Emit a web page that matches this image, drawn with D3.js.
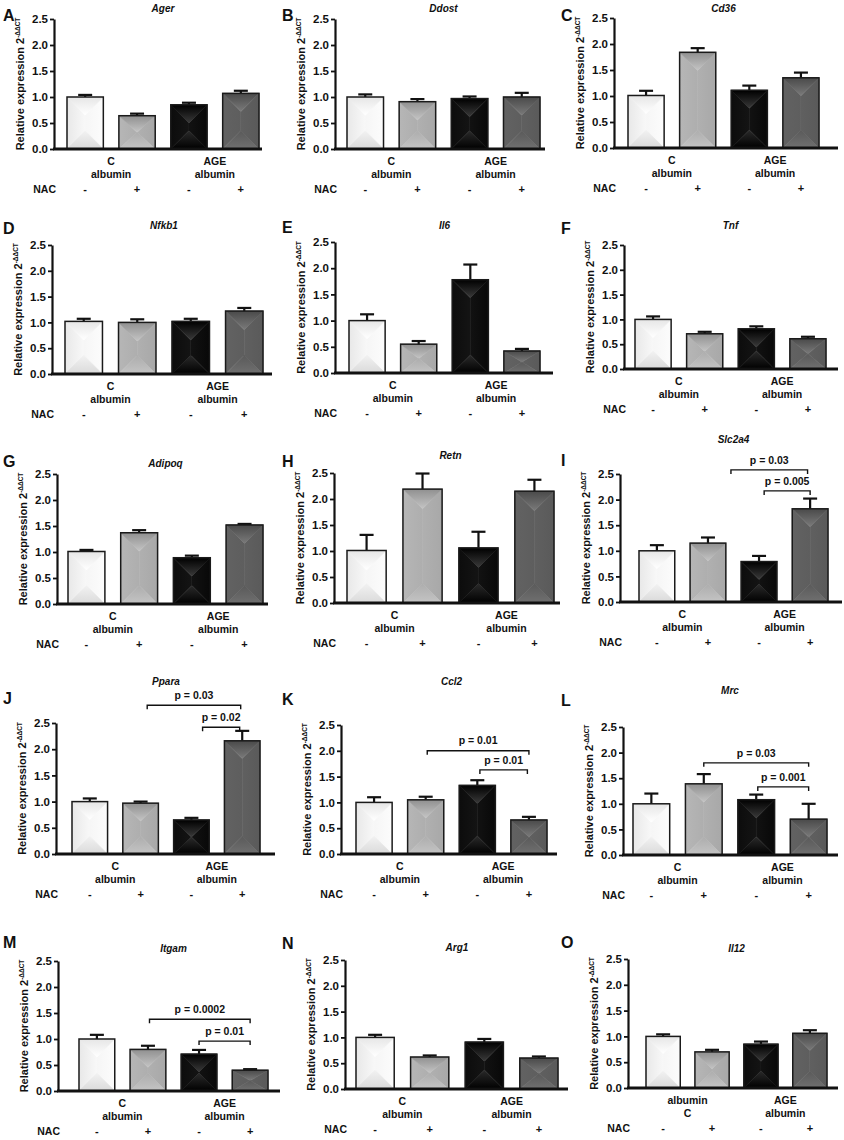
<!DOCTYPE html>
<html>
<head>
<meta charset="utf-8">
<script src="https://cdn.jsdelivr.net/npm/d3@7"></script>
<style>
  body { margin: 0; background: #fff; }
  text { font-family: "Liberation Sans", Arial, sans-serif; font-weight: bold; fill: #111; }
</style>
</head>
<body>
<script>
// ---- data ----
const genes = ['Ager', 'Ddost', 'Cd36', 'Nfkb1', 'Il6', 'Tnf', 'Adipoq', 'Retn', 'Slc2a4',
    'Ppara', 'Ccl2', 'Mrc', 'Itgam', 'Arg1', 'Il12'];
const panelLetters = ['A', 'B', 'C', 'D', 'E', 'F', 'G', 'H', 'I', 'J', 'K', 'L', 'M', 'N', 'O'];
const groups = ['C-', 'C+', 'AGE-', 'AGE+'];
const nacLabels = ['-', '+', '-', '+'];
const yTicks = [0, 0.5, 1.0, 1.5, 2.0, 2.5];

const means = [
    [1.00, 0.64, 0.85, 1.07],
    [1.00, 0.91, 0.97, 1.00],
    [1.01, 1.84, 1.11, 1.35],
    [1.02, 1.00, 1.02, 1.22],
    [1.00, 0.55, 1.78, 0.42],
    [1.00, 0.71, 0.81, 0.61],
    [1.01, 1.37, 0.89, 1.52],
    [1.01, 2.19, 1.06, 2.15],
    [1.00, 1.15, 0.79, 1.82],
    [1.00, 0.97, 0.65, 2.16],
    [1.00, 1.05, 1.33, 0.66],
    [1.00, 1.39, 1.08, 0.70],
    [1.00, 0.80, 0.71, 0.40],
    [1.00, 0.62, 0.91, 0.60],
    [1.00, 0.70, 0.85, 1.06]
];
const sems = [
    [0.04, 0.04, 0.04, 0.05],
    [0.05, 0.05, 0.04, 0.08],
    [0.09, 0.08, 0.09, 0.10],
    [0.05, 0.06, 0.05, 0.06],
    [0.12, 0.06, 0.29, 0.04],
    [0.06, 0.04, 0.05, 0.04],
    [0.03, 0.05, 0.04, 0.02],
    [0.30, 0.30, 0.31, 0.22],
    [0.11, 0.11, 0.11, 0.20],
    [0.06, 0.03, 0.04, 0.19],
    [0.10, 0.06, 0.10, 0.06],
    [0.20, 0.19, 0.10, 0.30],
    [0.08, 0.07, 0.08, 0.02],
    [0.05, 0.03, 0.06, 0.03],
    [0.04, 0.04, 0.05, 0.06]
];
const groupLabels = [['C', 'albumin'], ['AGE', 'albumin']];
const groupLabelsO = [['albumin', 'C'], ['AGE', 'albumin']];

// significance brackets: panel, label, from/to bar index, level (y units)
const brackets = [
    { panel: 8, label: 'p = 0.03', from: 1.45, to: 2.95, level: 2.58 },
    { panel: 8, label: 'p = 0.005', from: 2.1, to: 3.0, level: 2.17 },
    { panel: 9, label: 'p = 0.03', from: 1.13, to: 2.97, level: 2.84 },
    { panel: 9, label: 'p = 0.02', from: 2.22, to: 2.95, level: 2.42 },
    { panel: 10, label: 'p = 0.01', from: 1.03, to: 3.0, level: 2.0 },
    { panel: 10, label: 'p = 0.01', from: 2.05, to: 2.97, level: 1.63 },
    { panel: 11, label: 'p = 0.03', from: 1.0, to: 3.0, level: 1.8 },
    { panel: 11, label: 'p = 0.001', from: 2.03, to: 3.0, level: 1.33 },
    { panel: 12, label: 'p = 0.0002', from: 1.03, to: 3.0, level: 1.38 },
    { panel: 12, label: 'p = 0.01', from: 2.0, to: 3.0, level: 0.96 }
];

// ---- layout (pixels) : axisX, topY, baseY, axisEndX, barX0, barX1, titleY, letterY ----
const layout = [
    [54, 19, 149, 262, 67, 259, 8, 15],
    [335, 19, 149, 545, 347, 540, 8, 15],
    [614, 18, 148, 838, 628, 819, 8, 15],
    [52, 245, 374, 272, 65, 263, 225, 228],
    [335, 242, 373, 553, 349, 540, 225, 227],
    [624, 245, 369, 838, 635, 826, 225, 228],
    [57, 474, 604, 268, 68, 263, 463, 461],
    [334, 473, 603, 560, 347, 554, 455, 461],
    [620, 474, 602, 842, 639, 828, 439, 460],
    [56, 723, 854, 275, 72, 260, 681, 698],
    [341, 725, 854, 557, 356, 547, 681, 699],
    [623, 727, 855, 838, 633, 827, 690, 700],
    [58, 961, 1091, 280, 79, 268, 948, 942],
    [345, 960, 1089, 568, 356, 558, 947, 943],
    [628, 959, 1088, 838, 646, 827, 948, 942]
];

// bevel shading per bar style: [edge, centre] for each region
const shades = [
    { top: ['#e6e6e6', '#ffffff'], bottom: ['#dadada', '#f2f2f2'], left: ['#e8e8e8', '#f8f8f8'], right: ['#fcfcfc', '#f6f6f6'] },
    { top: ['#909090', '#c4c4c4'], bottom: ['#c4c4c4', '#adadad'], left: ['#b6b6b6', '#aeaeae'], right: ['#a8a8a8', '#b0b0b0'] },
    { top: ['#000000', '#3a3a3a'], bottom: ['#000000', '#2a2a2a'], left: ['#0c0c0c', '#141414'], right: ['#080808', '#121212'] },
    { top: ['#4a4a4a', '#7a7a7a'], bottom: ['#707070', '#5a5a5a'], left: ['#626262', '#5e5e5e'], right: ['#5a5a5a', '#606060'] }
];
const gradDir = {
    top: { x1: 0, y1: 0, x2: 0, y2: 1 },
    bottom: { x1: 0, y1: 1, x2: 0, y2: 0 },
    left: { x1: 0, y1: 0, x2: 1, y2: 0 },
    right: { x1: 1, y1: 0, x2: 0, y2: 0 }
};

const svg = d3.select('body').append('svg')
    .attr('width', 844)
    .attr('height', 1140);

const defs = svg.append('defs');
shades.forEach((s, i) => {
    Object.keys(gradDir).forEach(region => {
        const g = defs.append('linearGradient')
            .attr('id', `bar${i}-${region}`)
            .attr('x1', gradDir[region].x1).attr('y1', gradDir[region].y1)
            .attr('x2', gradDir[region].x2).attr('y2', gradDir[region].y2);
        g.append('stop').attr('offset', 0).attr('stop-color', s[region][0]);
        g.append('stop').attr('offset', 1).attr('stop-color', s[region][1]);
    });
});

const line = d3.line();

genes.forEach((gene, p) => {
    const [axX, topY, baseY, axEnd, bx0, bx1, titleY, letterY] = layout[p];
    const col = p % 3;
    const g = svg.append('g').attr('class', 'panel');

    const y = d3.scaleLinear().domain([0, 2.5]).range([baseY, topY]);
    const x = d3.scaleBand().domain(groups).range([bx0, bx1]).paddingInner(0.3).paddingOuter(0);
    const cx = i => x(groups[0]) + x.bandwidth() / 2 + i * x.step();

    // panel letter and gene title
    g.append('text')
        .attr('x', col * 279 + 3).attr('y', letterY).attr('dy', '0.35em')
        .style('font-size', '16px')
        .text(panelLetters[p]);
    g.append('text')
        .attr('x', (bx0 + bx1) / 2).attr('y', titleY).attr('dy', '0.35em')
        .attr('text-anchor', 'middle')
        .style('font-size', '10px').style('font-style', 'italic')
        .text(gene);

    // bars with bevel shading
    const bars = g.selectAll('g.bar')
        .data(means[p].map((v, i) => ({ v, e: sems[p][i], i })))
        .enter().append('g').attr('class', 'bar');

    bars.each(function (d) {
        const x0 = x(groups[d.i]), x1 = x0 + x.bandwidth();
        const yt = y(d.v), yb = y(0);
        const xc = (x0 + x1) / 2;
        const dd = Math.min(x.bandwidth() / 2, (yb - yt) / 2);
        const regions = {
            left: [[x0, yt], [xc, yt + dd], [xc, yb - dd], [x0, yb]],
            right: [[x1, yt], [xc, yt + dd], [xc, yb - dd], [x1, yb]],
            top: [[x0, yt], [x1, yt], [xc, yt + dd]],
            bottom: [[x0, yb], [x1, yb], [xc, yb - dd]]
        };
        const sel = d3.select(this);
        Object.keys(regions).forEach(r => {
            sel.append('path')
                .attr('d', line(regions[r]) + 'Z')
                .attr('fill', `url(#bar${d.i}-${r})`)
                .attr('stroke', `url(#bar${d.i}-${r})`)
                .attr('stroke-width', 0.6);
        });
        // error bar (upper only)
        sel.append('line')
            .attr('x1', xc).attr('x2', xc)
            .attr('y1', yt).attr('y2', y(d.v + d.e))
            .attr('stroke', '#111').attr('stroke-width', 2.2);
        sel.append('line')
            .attr('x1', xc - 7).attr('x2', xc + 7)
            .attr('y1', y(d.v + d.e)).attr('y2', y(d.v + d.e))
            .attr('stroke', '#111').attr('stroke-width', 2.2);
        sel.append('rect')
            .attr('x', x0).attr('y', yt)
            .attr('width', x.bandwidth()).attr('height', yb - yt)
            .attr('fill', 'none').attr('stroke', '#1a1a1a').attr('stroke-width', 1.5);
    });

    // y axis
    const yAxis = g.append('g')
        .attr('transform', `translate(${axX},0)`)
        .call(d3.axisLeft(y).tickValues(yTicks).tickSize(4).tickSizeOuter(0).tickFormat(d3.format('.1f')));
    yAxis.select('.domain').attr('stroke', '#111').attr('stroke-width', 2.2);
    yAxis.selectAll('.tick line').attr('stroke', '#111').attr('stroke-width', 1.8);
    yAxis.selectAll('.tick text')
        .attr('x', -6)
        .style('font-size', '11.5px')
        .style('font-family', '"Liberation Sans", Arial, sans-serif')
        .style('font-weight', 'bold')
        .attr('fill', '#111');

    // x axis baseline
    g.append('line')
        .attr('x1', axX - 1).attr('x2', axEnd)
        .attr('y1', y(0)).attr('y2', y(0))
        .attr('stroke', '#111').attr('stroke-width', 2.8);

    // y axis title
    const yt = g.append('text')
        .attr('transform', `translate(${axX - 30},${(topY + baseY) / 2}) rotate(-90)`)
        .attr('text-anchor', 'middle')
        .style('font-size', '11px');
    yt.append('tspan').text('Relative expression 2');
    yt.append('tspan').attr('dy', '-0.55em').style('font-size', '6.5px').text('-ΔΔCT');

    // group labels
    const labels = p === 14 ? groupLabelsO : groupLabels;
    labels.forEach((lab, k) => {
        const mid = (cx(2 * k) + cx(2 * k + 1)) / 2;
        lab.forEach((t, j) => {
            g.append('text')
                .attr('x', mid).attr('y', baseY + 12 + j * 13).attr('dy', '0.35em')
                .attr('text-anchor', 'middle')
                .style('font-size', '10.5px')
                .text(t);
        });
    });
    g.append('text')
        .attr('x', axX + 2).attr('y', baseY + 40).attr('dy', '0.35em')
        .attr('text-anchor', 'end')
        .style('font-size', '10.5px')
        .text('NAC');
    nacLabels.forEach((t, i) => {
        g.append('text')
            .attr('x', cx(i)).attr('y', baseY + 40).attr('dy', '0.35em')
            .attr('text-anchor', 'middle')
            .style('font-size', '11px')
            .text(t);
    });

    // significance brackets
    brackets.filter(b => b.panel === p).forEach(b => {
        const xa = cx(b.from), xb = cx(b.to), yl = y(b.level);
        g.append('path')
            .attr('d', line([[xa, yl + 4], [xa, yl], [xb, yl], [xb, yl + 4]]))
            .attr('fill', 'none').attr('stroke', '#111').attr('stroke-width', 1.4);
        g.append('text')
            .attr('x', (xa + xb) / 2).attr('y', yl - 10).attr('dy', '0.35em')
            .attr('text-anchor', 'middle')
            .style('font-size', '10.5px')
            .text(b.label);
    });
});
</script>
</body>
</html>
